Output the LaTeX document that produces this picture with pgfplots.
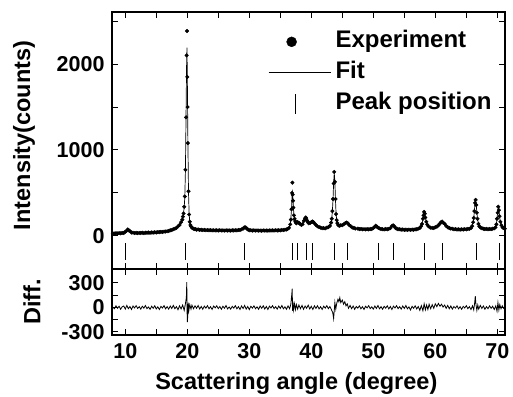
\documentclass[border=0pt]{standalone}
\usepackage{fontspec}
\setmainfont{Liberation Sans}
\usepackage{pgfplots}
\usepackage{pgfplotstable}
\pgfplotsset{compat=1.18}

\pgfplotstableread{
x exp fit
8.00 31 30
8.25 28 30
8.50 33 31
8.75 30 31
9.00 34 32
9.25 31 33
9.50 36 34
9.75 35 37
10.00 50 48
10.20 60 62
10.40 75 72
10.60 64 66
10.80 54 52
11.00 40 42
11.25 39 37
11.50 34 36
11.75 37 35
12.00 33 35
12.25 36 35
12.50 35 35
12.75 38 36
13.00 34 36
13.25 38 37
13.50 37 37
13.75 40 38
14.00 37 39
14.25 41 39
14.50 39 40
14.75 43 41
15.00 41 42
15.25 45 43
15.50 44 45
15.75 48 47
16.00 46 48
16.25 51 50
16.50 52 52
16.75 55 55
17.00 58 59
17.25 66 64
17.50 68 70
17.75 79 77
18.00 84 85
18.25 95 96
18.50 111 110
18.75 128 130
19.00 160 155
19.20 190 195
19.30 225 220
19.40 262 270
19.50 340 330
19.60 460 450
19.70 770 750
19.80 1380 1400
19.90 2100 2050
19.95 2384 2190
20.00 1850 1900
20.05 1500 1500
20.10 1080 1100
20.20 520 500
20.30 250 260
20.40 165 160
20.50 128 130
20.60 112 110
20.75 97 98
20.90 90 88
21.10 80 82
21.30 80 78
21.50 73 76
21.75 76 74
22.00 70 72
22.25 72 71
22.50 68 70
22.75 71 69
23.00 67 68
23.25 69 68
23.50 66 67
23.75 68 67
24.00 65 66
24.25 67 66
24.50 64 65
24.75 66 65
25.00 63 65
25.25 67 65
25.50 64 64
25.75 65 64
26.00 62 64
26.25 66 64
26.50 63 64
26.75 65 64
27.00 62 64
27.25 66 65
27.50 64 65
27.75 67 66
28.00 65 66
28.25 70 68
28.50 70 71
28.75 77 75
29.00 86 88
29.20 100 98
29.40 100 102
29.60 86 85
29.80 74 74
30.00 66 68
30.25 67 66
30.50 63 65
30.75 66 64
31.00 62 64
31.25 65 64
31.50 62 63
31.75 64 63
32.00 61 63
32.25 65 63
32.50 62 63
32.75 64 63
33.00 62 63
33.25 65 63
33.50 63 64
33.75 66 64
34.00 63 64
34.25 67 65
34.50 64 65
34.75 67 66
35.00 65 66
35.25 70 68
35.50 69 70
35.75 73 72
36.00 76 76
36.20 82 82
36.40 94 95
36.60 135 130
36.70 190 200
36.80 310 300
36.90 500 480
36.95 620 515
37.00 480 490
37.05 410 420
37.10 330 340
37.20 240 250
37.30 200 195
37.40 175 170
37.50 155 158
37.60 148 150
37.80 162 160
38.00 152 155
38.20 140 138
38.40 128 130
38.60 137 135
38.80 175 170
39.00 205 205
39.10 215 210
39.20 198 200
39.30 180 185
39.45 160 162
39.60 148 150
39.80 152 155
40.00 162 160
40.20 168 166
40.35 160 162
40.50 148 150
40.75 128 125
41.00 112 110
41.25 103 100
41.50 97 95
41.75 90 92
42.00 92 90
42.25 88 91
42.50 97 95
42.75 103 105
43.00 118 120
43.20 155 160
43.30 200 200
43.40 290 290
43.50 430 420
43.60 610 620
43.70 745 730
43.80 630 640
43.90 430 420
44.00 255 250
44.10 185 190
44.20 150 150
44.35 128 130
44.50 118 120
44.75 124 120
45.00 126 125
45.25 136 138
45.50 150 150
45.70 157 155
45.90 148 150
46.10 128 130
46.35 115 112
46.60 98 100
46.85 95 93
47.10 86 88
47.50 86 85
47.75 80 82
48.00 82 80
48.25 77 79
48.50 80 78
48.75 76 78
49.00 80 78
49.25 77 78
49.50 81 79
49.75 82 82
50.00 92 90
50.20 105 105
50.40 120 118
50.60 108 110
50.80 94 95
51.00 88 86
51.25 80 80
51.50 79 78
51.75 76 78
52.00 81 78
52.25 78 79
52.50 83 81
52.75 92 92
53.00 116 118
53.20 124 122
53.40 112 112
53.60 92 95
53.80 86 85
54.00 78 80
54.25 79 77
54.50 73 75
54.75 76 74
55.00 71 73
55.25 74 72
55.50 70 72
55.75 74 72
56.00 71 73
56.25 75 73
56.50 72 74
56.75 77 76
57.00 78 79
57.25 86 84
57.50 92 95
57.70 112 115
57.85 140 145
58.00 200 195
58.10 240 240
58.20 280 275
58.30 258 255
58.40 215 215
58.55 165 165
58.70 132 130
58.90 112 110
59.20 97 95
59.50 94 92
59.75 92 95
60.00 102 100
60.25 108 110
60.50 124 125
60.70 142 140
60.90 158 155
61.10 168 165
61.30 152 155
61.50 142 140
61.75 118 120
62.00 102 100
62.25 92 90
62.50 86 85
62.75 84 82
63.00 78 80
63.25 80 78
63.50 75 77
63.75 78 76
64.00 74 76
64.25 78 76
64.50 75 77
64.75 80 78
65.00 77 79
65.25 83 81
65.50 84 85
65.75 92 95
65.95 115 120
66.10 160 165
66.20 210 200
66.30 290 290
66.40 385 380
66.50 420 410
66.60 360 360
66.70 270 275
66.80 200 200
66.95 140 145
67.10 112 115
67.30 98 95
67.55 88 88
67.80 84 84
68.00 80 82
68.25 83 81
68.50 79 81
68.75 82 81
69.00 80 82
69.25 85 84
69.50 88 90
69.70 100 100
69.85 135 140
69.95 200 200
70.05 270 280
70.15 340 330
70.25 300 300
70.35 230 230
70.50 165 160
70.65 125 125
70.85 100 100
71.00 92 92
71.20 85 86
}\xrd

\pgfplotstableread{
x d
8.00 5
8.25 -15
8.50 20
8.75 -10
9.00 15
9.25 -22
9.50 8
9.75 18
10.00 -20
10.25 25
10.50 -15
10.75 12
11.00 -25
11.25 18
11.50 -6
11.75 22
12.00 -12
12.25 10
12.50 -20
12.75 15
13.00 -8
13.25 24
13.50 -14
13.75 6
14.00 -22
14.25 16
14.50 -10
14.75 20
15.00 -18
15.25 8
15.50 -25
15.75 14
16.00 -6
16.25 22
16.50 -16
16.75 10
17.00 -20
17.25 18
17.50 -12
17.75 25
18.00 -15
18.25 10
18.50 -28
18.75 20
19.00 -18
19.25 30
19.50 -35
19.70 45
19.85 120
19.92 310
19.97 -60
20.02 -180
20.08 -90
20.15 60
20.25 -40
20.40 35
20.60 -20
20.75 28
21.00 -15
21.25 20
21.50 -10
21.75 25
22.00 -18
22.25 12
22.50 -22
22.75 16
23.00 -8
23.25 22
23.50 -16
23.75 10
24.00 -24
24.25 18
24.50 -5
24.75 20
25.00 -14
25.25 12
25.50 -22
25.75 15
26.00 -10
26.25 24
26.50 -18
26.75 6
27.00 -20
27.25 14
27.50 -8
27.75 22
28.00 -16
28.25 10
28.50 -24
28.75 18
29.00 -12
29.25 25
29.50 -20
29.75 12
30.00 -26
30.25 15
30.50 -8
30.75 20
31.00 -15
31.25 8
31.50 -22
31.75 18
32.00 -10
32.25 20
32.50 -18
32.75 12
33.00 -25
33.25 16
33.50 -6
33.75 22
34.00 -14
34.25 10
34.50 -20
34.75 18
35.00 -12
35.25 24
35.50 -16
35.75 8
36.00 -22
36.25 20
36.50 -15
36.70 40
36.85 160
36.92 230
36.98 -40
37.05 70
37.15 -30
37.30 45
37.45 -25
37.60 35
37.80 -20
38.00 30
38.25 -15
38.50 25
38.75 -22
39.00 18
39.25 -10
39.50 28
39.75 -18
40.00 15
40.25 -25
40.50 20
40.75 -12
41.00 22
41.25 -18
41.50 10
41.75 -24
42.00 16
42.25 -8
42.50 22
42.75 -15
43.00 12
43.25 -28
43.45 -60
43.60 -135
43.70 -40
43.80 60
43.95 -20
44.10 50
44.30 100
44.45 70
44.60 120
44.75 60
45.00 90
45.20 40
45.40 70
45.60 20
45.80 45
46.00 -10
46.25 25
46.50 -15
46.75 18
47.00 -22
47.25 12
47.50 -8
47.75 20
48.00 -16
48.25 10
48.50 -24
48.75 15
49.00 -6
49.25 22
49.50 -14
49.75 8
50.00 -20
50.25 18
50.50 -12
50.75 24
51.00 -16
51.25 10
51.50 -22
51.75 14
52.00 -8
52.25 20
52.50 -18
52.75 12
53.00 -25
53.25 16
53.50 -6
53.75 22
54.00 -14
54.25 10
54.50 -20
54.75 18
55.00 -12
55.25 24
55.50 -16
55.75 8
56.00 -30
56.25 14
56.50 -10
56.75 20
57.00 -18
57.25 12
57.50 -35
57.75 22
58.00 -40
58.20 45
58.40 -30
58.60 30
58.80 -25
59.00 40
59.25 -15
59.50 35
59.75 -10
60.00 45
60.25 10
60.50 50
60.75 15
61.00 40
61.25 5
61.50 30
61.75 -10
62.00 25
62.25 -15
62.50 18
62.75 -20
63.00 12
63.25 -8
63.50 20
63.75 -16
64.00 10
64.25 -22
64.50 14
64.75 -6
65.00 22
65.25 -14
65.50 10
65.75 -25
66.00 20
66.20 -30
66.35 60
66.45 140
66.55 40
66.70 -35
66.85 30
67.00 -20
67.25 25
67.50 -12
67.75 18
68.00 -22
68.25 10
68.50 -15
68.75 20
69.00 -10
69.25 15
69.50 -25
69.75 20
69.95 -45
70.10 60
70.25 -30
70.40 35
70.60 -15
70.80 20
71.00 -10
71.20 8
}\diffdata

\pgfplotstableread{
x y
10.1 -180
19.75 -180
29.2 -180
36.9 -180
37.8 -180
39.3 -180
40.2 -180
43.7 -180
45.9 -180
50.8 -180
53.2 -180
58.2 -180
61.2 -180
66.7 -180
70.4 -180
}\peaks

\begin{document}
\begin{tikzpicture}
\path[use as bounding box] (0pt,0pt) rectangle (513pt,396pt);
\pgfplotsset{
  every axis/.append style={
    scale only axis, width=393pt,
    xmin=7.86, xmax=71.24,
    axis line style={line width=1.3pt},
    tick style={line width=1pt, black},
    major tick length=6pt, minor tick length=6pt,
    xtick={10,20,...,70}, minor xtick={15,25,...,65},
    tick label style={font=\bfseries\fontsize{21.5}{21.5}\selectfont},
    label style={font=\bfseries\fontsize{23.5}{27}\selectfont},
    /pgf/number format/assume math mode=true,
    /pgf/number format/1000 sep={},
    xtick pos=both, ytick pos=both,
    yticklabel style={xshift=-4pt},
    xticklabel style={yshift=-5pt},
  }
}
\begin{axis}[
  at={(112pt,127pt)}, anchor=south west, height=257pt,
  ymin=-384, ymax=2605,
  ytick={0,1000,2000}, minor ytick={500,1500,2500},
  xticklabels={},
  ylabel={Intensity(counts)},
  ylabel style={at={(axis description cs:-0.224,0.52)}, anchor=center},
  legend style={at={(0.397,0.945)}, anchor=north west, draw=none, fill=none,
    font=\bfseries\fontsize{24}{24}\selectfont, inner sep=0pt,
    cells={anchor=west},
    nodes={inner sep=4.5pt, text height=16.5pt, text depth=5.5pt}},
]
\addplot[only marks, mark=*, mark size=1.8pt, black,
  legend image code/.code={\path[draw=none,fill=none] (0pt,0pt) -- (62pt,0pt); \fill[black] (23pt,0pt) circle (5pt);}]
  table[x=x, y=exp]{\xrd};
\addlegendentry{Experiment}
\addplot[black, line width=0.7pt,
  legend image code/.code={\draw[line width=0.8pt] (0pt,0pt) -- (62pt,0pt);}]
  table[x=x, y=fit]{\xrd};
\addlegendentry{Fit}
\addplot[only marks, mark=|, mark size=8.5pt, black, line width=1pt,
  legend image code/.code={\path[draw=none,fill=none] (0pt,0pt) -- (62pt,0pt); \draw[black, line width=1.2pt] (27pt,-10pt) -- (27pt,10pt);}]
  table[x=x, y=y]{\peaks};
\addlegendentry{Peak position}
\end{axis}
\begin{axis}[
  at={(112pt,61pt)}, anchor=south west, height=66pt,
  ymin=-337, ymax=471,
  ytick={-300,0,300}, minor ytick={-150,150},
  xlabel={Scattering angle (degree)},
  xlabel style={at={(axis description cs:0.469,-0.742)}, anchor=center},
  ylabel={Diff.},
  ylabel style={at={(axis description cs:-0.2036,0.5)}, anchor=center},
]
\addplot[black, line width=0.8pt] table[x=x, y=d]{\diffdata};
\end{axis}
\end{tikzpicture}
\end{document}
